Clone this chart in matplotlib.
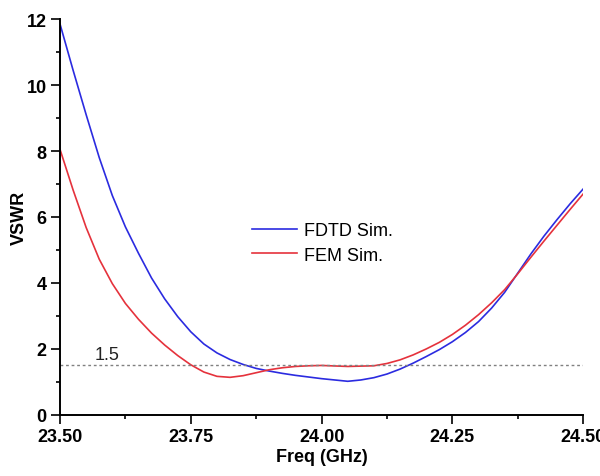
import matplotlib
matplotlib.use('Agg')
import matplotlib.pyplot as plt
from matplotlib.ticker import MultipleLocator

plt.rcParams['font.family'] = ['Liberation Sans', 'DejaVu Sans']

fdtd_freq = [23.50, 23.525, 23.55, 23.575, 23.60, 23.625, 23.65, 23.675, 23.70, 23.725,
             23.75, 23.775, 23.80, 23.825, 23.85, 23.875, 23.90, 23.925, 23.95, 23.975,
             24.00, 24.025, 24.05, 24.075, 24.10, 24.125, 24.15, 24.175, 24.20, 24.225,
             24.25, 24.275, 24.30, 24.325, 24.35, 24.375, 24.40, 24.425, 24.45, 24.475, 24.50]
fdtd_vswr = [11.85, 10.45, 9.1, 7.8, 6.65, 5.7, 4.9, 4.15, 3.52, 2.98,
             2.52, 2.15, 1.88, 1.68, 1.53, 1.41, 1.33, 1.26, 1.20, 1.15,
             1.10, 1.06, 1.02, 1.06, 1.13, 1.24, 1.39, 1.57, 1.77, 1.98,
             2.22, 2.50, 2.83, 3.24, 3.72, 4.30, 4.88, 5.42, 5.92, 6.40, 6.85]

fem_freq = [23.50, 23.525, 23.55, 23.575, 23.60, 23.625, 23.65, 23.675, 23.70, 23.725,
            23.75, 23.775, 23.80, 23.825, 23.85, 23.875, 23.90, 23.925, 23.95, 23.975,
            24.00, 24.05, 24.10, 24.125, 24.15, 24.175, 24.20, 24.225,
            24.25, 24.275, 24.30, 24.325, 24.35, 24.375, 24.40, 24.425, 24.45, 24.475, 24.50]
fem_vswr = [8.05, 6.82, 5.68, 4.72, 3.98, 3.38, 2.90, 2.48, 2.12, 1.80,
            1.52, 1.30, 1.17, 1.14, 1.19, 1.28, 1.37, 1.43, 1.47, 1.49,
            1.50, 1.47, 1.49, 1.56, 1.67, 1.82, 2.00, 2.20,
            2.44, 2.72, 3.04, 3.40, 3.80, 4.28, 4.78, 5.27, 5.75, 6.23, 6.70]

ref_level = 1.5

fig = plt.figure(figsize=(6, 4.77), dpi=100)
ax = fig.add_axes([0.1, 0.128, 0.872, 0.83])

ax.plot(fdtd_freq, fdtd_vswr, color='#2b2be0', lw=1.2, label='FDTD Sim.')
ax.plot(fem_freq, fem_vswr, color='#e5323c', lw=1.2, label='FEM Sim.')
ax.axhline(ref_level, color='#808080', lw=1, linestyle=(0, (2, 2)))
ax.text(23.567, 1.58, '1.5', fontsize=13, va='bottom', ha='left', color='#222222')

ax.set_xlim(23.5, 24.5)
ax.set_ylim(0, 12)
ax.xaxis.set_minor_locator(MultipleLocator(0.125))
ax.yaxis.set_major_locator(MultipleLocator(2))
ax.yaxis.set_minor_locator(MultipleLocator(1))
ax.set_xticks([23.5, 23.75, 24.0, 24.25, 24.5])
ax.set_xticklabels(['23.50', '23.75', '24.00', '24.25', '24.50'])

for s in ['top', 'right']:
    ax.spines[s].set_visible(False)
for s in ['left', 'bottom']:
    ax.spines[s].set_linewidth(1.4)

ax.tick_params(which='major', direction='out', length=6.5, width=1.2, labelsize=13, pad=3)
ax.tick_params(which='minor', direction='out', length=3, width=1.2)
for lab in ax.get_xticklabels() + ax.get_yticklabels():
    lab.set_fontweight('bold')

ax.set_xlabel('Freq (GHz)', fontsize=13, fontweight='bold', labelpad=2)
ax.set_ylabel('VSWR', fontsize=13, fontweight='bold')
ax.yaxis.set_label_coords(-0.061, 0.5)

ax.legend(loc='upper left', bbox_to_anchor=(0.367, 0.487), frameon=False, fontsize=13,
          handlelength=2.5, handletextpad=0.4, borderpad=0, borderaxespad=0, labelspacing=0.41)

fig.savefig('out.png', dpi=100)
